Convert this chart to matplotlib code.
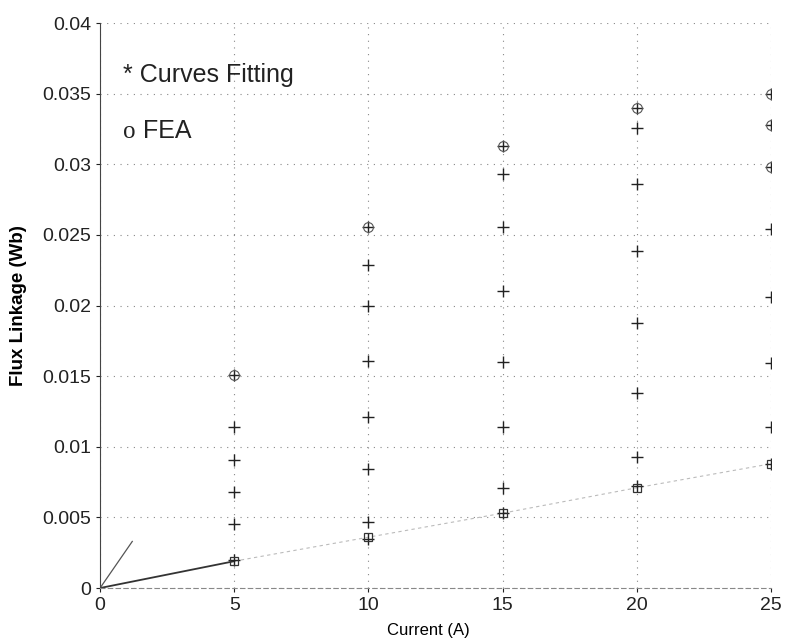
import matplotlib.pyplot as plt

# currents (A) and flux linkage (Wb)
current = [5, 10, 15, 20, 25]
fit_5 = [0.0151, 0.0114, 0.0091, 0.0068, 0.0045, 0.0020]
fit_10 = [0.0256, 0.0229, 0.0200, 0.0161, 0.0121, 0.0084, 0.0047, 0.0035]
fit_15 = [0.0313, 0.0293, 0.0256, 0.0210, 0.0160, 0.0114, 0.0071, 0.0053]
fit_20 = [0.0340, 0.0326, 0.0286, 0.0239, 0.0188, 0.0138, 0.0093, 0.0072]
fit_25 = [0.0350, 0.0328, 0.0298, 0.0254, 0.0206, 0.0159, 0.0114, 0.0088]

# FEA points drawn with circles (top) and squares (bottom)
fea_top_x = [5, 10, 15, 20, 25, 25, 25]
fea_top_y = [0.0151, 0.0256, 0.0313, 0.0340, 0.0350, 0.0328, 0.0298]
fea_low_x = [5, 10, 15, 20, 25]
fea_low_y = [0.0019, 0.0036, 0.0053, 0.0071, 0.0088]

# faint curves starting at the origin
line_low_x = [0, 5, 10, 15, 20, 25]
line_low_y = [0, 0.0019, 0.0036, 0.0053, 0.0071, 0.0088]
line_steep_x = [0, 1.2]
line_steep_y = [0, 0.0033]

xticks = [0, 5, 10, 15, 20, 25]
yticks = [0, 0.005, 0.01, 0.015, 0.02, 0.025, 0.03, 0.035, 0.04]
ytick_labels = ['0', '0.005', '0.01', '0.015', '0.02', '0.025', '0.03', '0.035', '0.04']

plt.rcParams['font.family'] = ['Liberation Sans', 'DejaVu Sans']

fig = plt.figure(figsize=(7.88, 6.43), dpi=100)
ax = fig.add_axes([0.127, 0.0855, 0.8515, 0.8785])

ax.plot(line_low_x[:2], line_low_y[:2], color='#333333', lw=1.3)
ax.plot(line_low_x[1:], line_low_y[1:], color='#bbbbbb', lw=0.8, ls=(0, (3, 3)))
ax.plot(line_steep_x, line_steep_y, color='#555555', lw=0.9)

fits = [fit_5, fit_10, fit_15, fit_20, fit_25]
for i, vals in zip(current, fits):
    ax.plot([i] * len(vals), vals, ls='none', marker='+', color='#222222',
            markersize=9, markeredgewidth=1.0)

ax.plot(fea_top_x, fea_top_y, ls='none', marker='o', mfc='none', mec='#555555',
        markersize=7, markeredgewidth=0.8)
ax.plot(fea_low_x, fea_low_y, ls='none', marker='s', mfc='none', mec='#333333',
        markersize=6, markeredgewidth=0.9)

ax.set_xlim(0, 25)
ax.set_ylim(0, 0.04)
ax.set_xticks(xticks)
ax.set_yticks(yticks)
ax.set_yticklabels(ytick_labels)
ax.tick_params(labelsize=14, length=3, colors='#222222')
ax.grid(True, ls=(0, (1, 5)), color='#888888', lw=0.8)

ax.spines['top'].set_visible(False)
ax.spines['right'].set_visible(False)
ax.spines['left'].set_color('#444444')
ax.spines['bottom'].set_color('#888888')
ax.spines['bottom'].set_linestyle((0, (4, 3)))

ax.set_xlabel('Current (A)', fontsize=12)
ax.xaxis.set_label_coords(0.49, -0.062)
ax.set_ylabel('Flux Linkage (Wb)', fontsize=13.5, fontweight='bold')
ax.yaxis.set_label_coords(-0.109, 0.5)

ax.text(0.86, 0.0358, '* Curves Fitting', fontsize=18, color='#222222')
ax.text(0.86, 0.03186, 'o', fontsize=18, color='#222222', family='Liberation Serif')
ax.text(1.6, 0.03186, 'FEA', fontsize=18, color='#222222')

fig.savefig('out.png', dpi=100)
